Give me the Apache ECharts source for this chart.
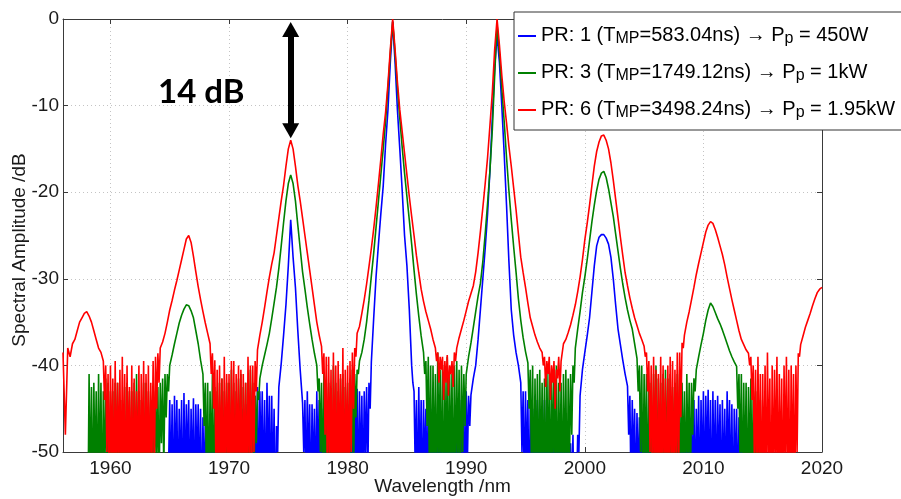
<!DOCTYPE html>
<html><head><meta charset="utf-8">
<script src="https://cdn.jsdelivr.net/npm/echarts@6/dist/echarts.min.js"></script>
<style>html,body{margin:0;padding:0;background:#fff}#c{width:901px;height:499px}</style>
</head><body><div id="c"></div>
<script>
// sampling grid of the spectra (nm)
const lambdaStart = 1956, lambdaStep = 0.2;
const xMin = 1956, xMax = 2020, yMin = -50, yMax = 0;

// legend parts
const prLabels = ['1', '3', '6'];
const tmpLabels = ['583.04ns', '1749.12ns', '3498.24ns'];
const ppLabels = ['450W', '1kW', '1.95kW'];
const seriesColors = ['#0000ff', '#008000', '#ff0000'];

// annotation
const annotationText = '14 dB';
const arrowX = 1975.2, arrowTop = -1.2, arrowBottom = -12.9;

// spectral amplitude (dB), one value every 0.2 nm from 1956.0 to 2020.0
const bluePR1 = [
-60,-60,-60,-60,-60, -60,-60,-60,-60,-60, -60,-60,-60,-60,-60, -60,-60,-60,-60,-60,
-60,-60,-60,-60,-60, -60,-60,-60,-60,-60, -60,-60,-60,-60,-60, -60,-60,-60,-60,-60,
-60,-60,-60,-60,-60,
-44,-44.5,-43.5,-44,-45,
-44,-43.2,-44.5,-44,-45,
-43.8,-44.5,-44.5,-45,-46,
-46,-47,-46,-47.5,-48,
-47,-46.5,-48,-47,-46,
-47,-46,-47.5,-46,-45.5,
-46,-45,-44.5,-44,-44,
-43,-43.5,-42.5,-43,-43,
-44,-42,-43.5,-43.5,-45,
-47,-42.5,-39.8,-36.5,-33,
-28.5,-23.2,-27.5,-31,-36,
-40.5,-44.3,-44,-43,-44.5,
-44.5,-45,-43,-44,-45,
-45,-46,-44,-46.5,-46,
-45.5,-45,-46,-47,-45,
-44.5,-44,-43,-43.5,-42.7,
-43,-43.5,-43,-42.5,-42,
-39.6,-34.5,-29.7,-26,-22.5,
-19.3,-14.5,-10.5,-5,-0.3,
-5,-10.5,-15,-19.8,-25,
-28.5,-33.5,-40,-43,-44,
-42.5,-44,-44,-45,-43,
-45,-45,-46,-47,-46,
-47,-48,-47,-47.5,-46,
-46,-46,-45,-44,-44.5,
-43,-43.5,-43.4,-41.5,-40,
-37,-33.5,-30,-26.5,-22.5,
-17.5,-11.5,-5.5,-1.9,-5,
-10,-15.5,-21.5,-28,-33.6,
-36.5,-38.5,-40,-42,-43,
-43,-44,-44.5,-45,-43.5,
-44,-45,-45.5,-44,-46,
-47,-48,-48,-49,-47,
-48,-49,-50,-48,-49,
-48,-50,-48,-43.5,-40.5,
-38.5,-36.6,-34.5,-31.5,-28.5,
-26.2,-25.2,-24.9,-24.9,-25.3,
-26,-27.5,-30,-33,-35.8,
-37.6,-39.4,-41,-42.4,-43.5,
-44,-45,-45.5,-46,-46,
-47,-48,-48,-47,-49,
-50,-49,-50,-48,-49,
-50,-49,-48,-50,-47,
-49,-48,-49,-47,-46,
-46,-44,-45,-43.5,-44,
-43,-43.5,-42.8,-44,-43,
-44,-43.5,-44.5,-44,-45,
-43,-44,-44.5,-45,-45,
-46,-46,-60,-60,-60,
-60,-60,-60,-60,-60, -60,-60,-60,-60,-60, -60,-60,-60,-60,-60,
-60,-60,-60,-60,-60, -60,-60,-60,-60,-60, -60,-60,-60,-60,-60,
-60
];
// noise dips between the grid points: [first wavelength, values every 0.2 nm]
const bluePR1Dips = [
[1964.9, [-60,-55,-58,-53,-57,-54,-59,-55,-52,-57,-54,-58,-53,-56,-59,-55,-58,-56,-60,-57,-59,-56,-60,-57,-59,-55,-58,-56,-60,-57,-55,-58,-54,-57,-53,-56,-58,-54,-57,-52,-56,-58,-53,-57,-55,-59,-50]],
[1976.3, [-50,-56,-53,-58,-54,-57,-52,-56,-59,-55,-58,-54,-57,-60,-55,-58,-53,-57,-54,-58,-53,-56,-52,-57,-54,-56,-51,-53,-45]],
[1985.5, [-42,-52,-57,-54,-58,-53,-56,-59,-55,-58,-56,-60,-57,-59,-56,-60,-57,-55,-58,-53,-57,-54,-56,-51,-47]],
[1994.7, [-50,-56,-53,-58,-54,-57,-52,-56,-59,-54,-58,-56,-60,-57,-59,-56,-60,-58,-60,-57,-59,-56,-58,-55,-50]],
[2003.7, [-48,-55,-52,-57,-54,-58,-55,-59,-56,-60,-57,-59,-60,-58,-60,-57,-59,-58,-60,-57,-60,-56,-59,-57,-60,-56,-58,-55,-57,-53,-58,-54,-57,-52,-56,-59,-54,-57,-53,-58,-55,-57,-52,-56,-59,-54,-57,-55,-60]]
];

const greenPR3 = [
-60,-60,-60,-60,-60,
-60,-60,-60,-60,-60,
-60,-41,-42.5,-42,-43,
-41,-42,-43,-41.5,-42,
-43,-43,-42,-42,-44,
-44,-42.5,-42,-43,-43,
-42,-41,-43,-44,-42,
-42,-43,-44,-42.5,-43,
-42.5,-42,-41.5,-41,-41,
-40,-38.8,-37.5,-36.3,-35.1,
-34.2,-33.5,-33,-33.1,-33.7,
-34.5,-36,-37.5,-39.4,-41,
-42,-42,-43,-41,-42.5,
-43,-42,-41.5,-43,-42,
-42,-40.5,-42,-43,-41.5,
-41,-42.5,-42,-43,-40.5,
-42,-43.5,-43,-41.5,-40,
-38.8,-37.6,-36.3,-34.6,-32.8,
-31,-28.8,-26.2,-23.5,-21,
-19,-18,-19,-21,-23.8,
-26.5,-29.2,-31.2,-33.3,-35.2,
-37,-38.6,-40,-41.5,-42,
-41,-42.5,-42,-43,-40,
-42,-43,-41.5,-41,-42.5,
-42,-41.5,-40.5,-41,-40.5,
-39.5,-38.5,-37,-35,-32.5,
-29.7,-27,-24,-21,-18,
-15,-11.8,-8,-4,-0.3,
-4,-8,-11.5,-14.8,-17.8,
-20.5,-23.2,-26,-29,-31.8,
-34.3,-36.6,-38.5,-39.5,-39,
-40,-40,-41,-38.5,-40.5,
-40,-41,-39,-40.5,-41,
-40,-39.5,-40.5,-40,-41,
-41,-39,-37.4,-35.6,-33.8,
-32,-30.5,-28,-24.8,-21.3,
-17.5,-12.8,-6.5,-0.6,-4,
-8,-11.8,-16,-19.8,-23.2,
-26.3,-29.2,-32.3,-34.8,-36.8,
-38.4,-39.7,-40.5,-40,-41.5,
-41,-40.5,-42,-41.5,-40,
-41,-41.5,-40.5,-40,-42,
-42,-41,-40.5,-41.5,-41,
-40,-38,-35.8,-33.8,-31.6,
-29.8,-27.8,-25.6,-23.4,-21.5,
-19.8,-18.5,-17.8,-17.6,-18.3,
-19.6,-21.2,-22.8,-24.8,-26.8,
-28.8,-30.6,-32.2,-33.6,-34.8,
-35.8,-37.5,-39.2,-40,-40,
-41,-41,-42,-42,-41,
-40,-41.5,-42,-41,-40.5,
-41.5,-41,-42.5,-42,-41,
-40.5,-42,-43,-41,-42,
-42,-41.5,-40.5,-39,-37.6,
-36.3,-34.8,-33.6,-32.8,-33.2,
-33.9,-34.6,-35.2,-35.9,-36.7,
-37.5,-38.3,-39,-39.6,-40.1,
-41,-41,-42,-42,-42.5,
-41.5,-43,-43,-44,-44,
-60,-60,-60,-60,-60,
-60,-60,-60,-60,-60,
-60,-60,-60,-60,-60,
-60,-60,-60,-60,-60,
-60,-60,-60,-60,-60,
-60
];
const greenPR3Dips = [
[1958.1, [-58,-55,-58,-53,-57,-54,-59,-55,-52,-57,-54,-58,-53,-56,-59,-54,-57,-52,-58,-55,-57,-53,-59,-54,-56,-58,-53,-57,-54,-51,-55,-49,-52,-46,-43]],
[1967.9, [-47,-54,-57,-53,-58,-55,-52,-57,-54,-59,-53,-56,-58,-54,-57,-52,-55,-58,-53,-56,-51,-54,-49,-44]],
[1977.5, [-43,-50,-56,-53,-58,-54,-57,-52,-56,-59,-54,-57,-53,-55,-51,-53,-46,-41]],
[1986.5, [-41,-47,-53,-57,-54,-58,-52,-56,-59,-54,-57,-53,-58,-55,-52,-56,-50,-47,-41]],
[1995.3, [-45,-52,-57,-54,-58,-53,-56,-59,-54,-57,-52,-56,-58,-53,-57,-54,-58,-52,-48,-42]],
[2004.5, [-43,-50,-56,-53,-58,-54,-57,-52,-56,-59,-54,-57,-53,-58,-55,-52,-57,-54,-58,-53,-56,-52,-55,-48,-43]],
[2012.9, [-45,-52,-57,-54,-58,-53,-56,-59,-54,-57,-60]]
];

const redPR6 = [
-38.5,-48,-38,-39,-37.5,
-37,-36,-35,-34.5,-34,
-33.8,-34.3,-35,-36,-37,
-38,-38.5,-39.5,-40,-41,
-40,-41.5,-39.5,-42,-40.5,
-39,-41,-40,-42.5,-40,
-41.5,-43,-40,-41,-39.5,
-41,-40,-42,-39.5,-39,
-38.6,-38,-37.3,-36.3,-35,
-33.6,-32.5,-31.3,-30.2,-29,
-27.8,-26.6,-25.4,-25,-25.8,
-27.4,-29.2,-30.9,-32.4,-33.8,
-35.1,-36.3,-37.5,-38.6,-39.4,
-40.5,-40,-41.5,-39,-41,
-41,-39.5,-39.5,-41,-40,
-40.5,-41,-42,-39,-40,
-40,-39.5,-38.2,-36.5,-35,
-33.3,-31.5,-29.8,-28.3,-27,
-25,-23,-21,-19.2,-17,
-15,-14,-15,-17,-19.2,
-21,-23,-25,-27,-29,
-31,-33,-35,-36.5,-37.8,
-38.6,-39,-39,-40.5,-38.5,
-40,-39.5,-41,-38,-40.5,
-40,-39.5,-38.5,-38,-36.3,
-35.5,-34,-32.4,-30.6,-28.6,
-26.5,-24.2,-21.7,-19,-16.2,
-13.3,-10.8,-7.5,-3.5,0,
-3.5,-7.3,-10.5,-13,-15.5,
-18,-20.5,-22.8,-25,-27.3,
-29.3,-31.2,-32.6,-33.8,-34.8,
-35.8,-37,-38,-38.5,-39,
-39,-39.5,-38.8,-40,-39.5,
-38.5,-38,-36.8,-35.8,-34.8,
-33.7,-32.6,-31.7,-30.8,-29.2,
-27,-24.5,-21.8,-19,-16,
-12.3,-8.5,-3.5,0,-3,
-6.5,-9.5,-12,-14.7,-17,
-19.5,-22,-24.8,-27.5,-29.3,
-31,-32.8,-34.5,-35.5,-36.5,
-37.3,-38,-38.5,-39,-39.5,
-39,-40,-39.5,-40.5,-39,
-39.5,-37.5,-37,-36.2,-35.3,
-34.2,-33,-31.5,-29.8,-27.8,
-25.5,-23.6,-21.5,-19.2,-17,
-15.3,-14.2,-13.5,-13.4,-14,
-15,-16.6,-18.6,-20.8,-23,
-25.2,-27.3,-29.3,-30.8,-32.2,
-33.4,-34.5,-35.4,-36.3,-37,
-37.8,-38.5,-39.5,-40,-39,
-40.5,-41,-39,-40,-41.5,
-40,-39,-39.5,-40.5,-38.5,
-38.5,-37.4,-36.5,-35,-33.8,
-32.4,-31,-29.5,-28.2,-27,
-25.8,-24.6,-23.8,-23.4,-23.6,
-24.3,-25.2,-26.2,-27.2,-28.4,
-29.8,-31.1,-32.4,-33.6,-34.8,
-36,-37,-37.6,-38.2,-38.6,
-39,-40,-40.5,-39,-41,
-41,-40,-38.5,-41.5,-40,
-40.5,-39,-41,-41.5,-40,
-39,-40.5,-40,-41,-40,
-38.6,-37.6,-36.6,-35.6,-34.8,
-34,-33.1,-32.3,-31.6,-31.2,
-31
];
const redPR6Dips = [
[1959.5, [-44,-50,-56,-53,-58,-55,-52,-57,-54,-59,-53,-56,-58,-52,-55,-57,-53,-58,-54,-56,-51,-53,-45,-42]],
[1968.5, [-41,-45,-53,-57,-54,-58,-55,-52,-57,-54,-59,-53,-56,-58,-54,-57,-52,-55,-50,-43]],
[1977.9, [-41,-48,-55,-52,-57,-54,-58,-53,-56,-59,-54,-57,-50,-45,-39]],
[1987.5, [-39.5,-42,-40.5,-44,-42,-43.5,-41,-42.5,-39.5]],
[1996.5, [-40,-42.5,-41,-44,-42,-45,-41.5,-43,-39.5]],
[2005.1, [-39,-43,-50,-56,-53,-58,-54,-57,-52,-59,-55,-53,-57,-51,-55,-46,-38]],
[2013.9, [-40,-44,-51,-56,-53,-58,-54,-57,-52,-59,-55,-53,-57,-54,-58,-52,-56,-59,-53,-57,-50,-39]]
];

const seriesValues = [bluePR1, greenPR3, redPR6];
const seriesDips = [bluePR1Dips, greenPR3Dips, redPR6Dips];
const seriesNames = prLabels.map((p, i) => 'PR: ' + p + ' (TMP=' + tmpLabels[i] + ') \u2192 Pp = ' + ppLabels[i]);
const richNames = {};
seriesNames.forEach((n, i) => {
  richNames[n] = '{t|PR: ' + prLabels[i] + ' (T}{s|MP}{t|=' + tmpLabels[i] + ') \u2192 P}{s|p}{t| = ' + ppLabels[i] + '}';
});

function buildPoints(vals, dips) {
  const pts = vals.map((v, i) => [+(lambdaStart + i * lambdaStep).toFixed(1), v]);
  dips.forEach(([start, dv]) => dv.forEach((v, k) => pts.push([+(start + k * lambdaStep).toFixed(1), v])));
  pts.sort((a, b) => a[0] - b[0]);
  return pts;
}

const chart = echarts.init(document.getElementById('c'), null, {renderer: 'canvas'});
const FONT = 'Liberation Sans, Arial, Helvetica, sans-serif';
const axisColor = '#3a3a3a';
const labelColor = '#1a1a1a';

const series = seriesValues.map((vals, i) => {
  const s = {
    name: seriesNames[i],
    type: 'line',
    data: buildPoints(vals, seriesDips[i]),
    showSymbol: false,
    symbol: 'none',
    clip: true,
    lineStyle: {color: seriesColors[i], width: 1.6},
    itemStyle: {color: seriesColors[i]},
    animation: false,
    z: 2 + i
  };
  if (i === 2) {
    s.markLine = {
      silent: true,
      animation: false,
      symbol: ['triangle', 'triangle'],
      symbolSize: [17, 15],
      lineStyle: {color: '#000', width: 6, type: 'solid'},
      label: {show: false},
      emphasis: {disabled: true},
      data: [[{coord: [arrowX, arrowTop]}, {coord: [arrowX, arrowBottom]}]]
    };
  }
  return s;
});

const baseX = {
  type: 'value', min: xMin, max: xMax, minInterval: 10, maxInterval: 10,
  axisLine: {show: true, onZero: false, lineStyle: {color: axisColor, width: 1}},
  axisTick: {show: true, inside: true, length: 5, lineStyle: {color: axisColor}},
};
const baseY = {
  type: 'value', min: yMin, max: yMax, interval: 10,
  axisLine: {show: true, onZero: false, lineStyle: {color: axisColor, width: 1}},
  axisTick: {show: true, inside: true, length: 5, lineStyle: {color: axisColor}},
};

chart.setOption({
  animation: false,
  backgroundColor: '#ffffff',
  grid: {left: 63, right: 79, top: 19, bottom: 47, containLabel: false, outerBoundsMode: 'none'},
  xAxis: [
    Object.assign({}, baseX, {
      position: 'bottom',
      axisLabel: {show: true, color: labelColor, fontSize: 19, fontFamily: FONT, margin: 7, showMinLabel: false,
                  formatter: v => String(v)},
      splitLine: {show: true, lineStyle: {type: [1, 3], color: '#c4c4c4', width: 1}},
      name: 'Wavelength /nm', nameLocation: 'middle', nameGap: 25, nameMoveOverlap: false,
      nameTextStyle: {fontSize: 19, color: labelColor, fontFamily: FONT}
    }),
    Object.assign({}, baseX, {
      position: 'top',
      axisLabel: {show: false},
      splitLine: {show: false}
    })
  ],
  yAxis: [
    Object.assign({}, baseY, {
      position: 'left',
      axisLabel: {show: true, color: labelColor, fontSize: 19, fontFamily: FONT, margin: 4},
      splitLine: {show: true, lineStyle: {type: [1, 3], color: '#c4c4c4', width: 1}},
      name: 'Spectral Amplitude /dB', nameLocation: 'middle', nameGap: 34, nameMoveOverlap: false,
      nameTextStyle: {fontSize: 19, color: labelColor, fontFamily: FONT, padding: [0, 29, 0, 0]}
    }),
    Object.assign({}, baseY, {
      position: 'right',
      axisLabel: {show: false},
      splitLine: {show: false}
    })
  ],
  legend: {
    show: true,
    orient: 'vertical',
    left: 514, top: 12,
    padding: [7, 80, 9, 4],
    itemGap: 9,
    itemWidth: 18, itemHeight: 2,
    icon: 'rect',
    backgroundColor: '#ffffff',
    borderColor: '#333333', borderWidth: 1,
    selectedMode: false,
    data: seriesNames,
    formatter: n => richNames[n],
    textStyle: {
      color: '#000', fontFamily: FONT, fontSize: 20,
      rich: {
        t: {fontSize: 20, fontFamily: FONT, color: '#000', lineHeight: 22, verticalAlign: 'top'},
        s: {fontSize: 16, fontFamily: FONT, color: '#000', lineHeight: 16, padding: [12, 0, 0, 0], verticalAlign: 'bottom'}
      }
    }
  },
  graphic: [{
    type: 'text', left: 158, top: 76, z: 10,
    style: {text: annotationText, font: 'bold 33px Lato, "Open Sans", sans-serif', fill: '#000'}
  }],
  series: series
});
</script>
</body></html>
